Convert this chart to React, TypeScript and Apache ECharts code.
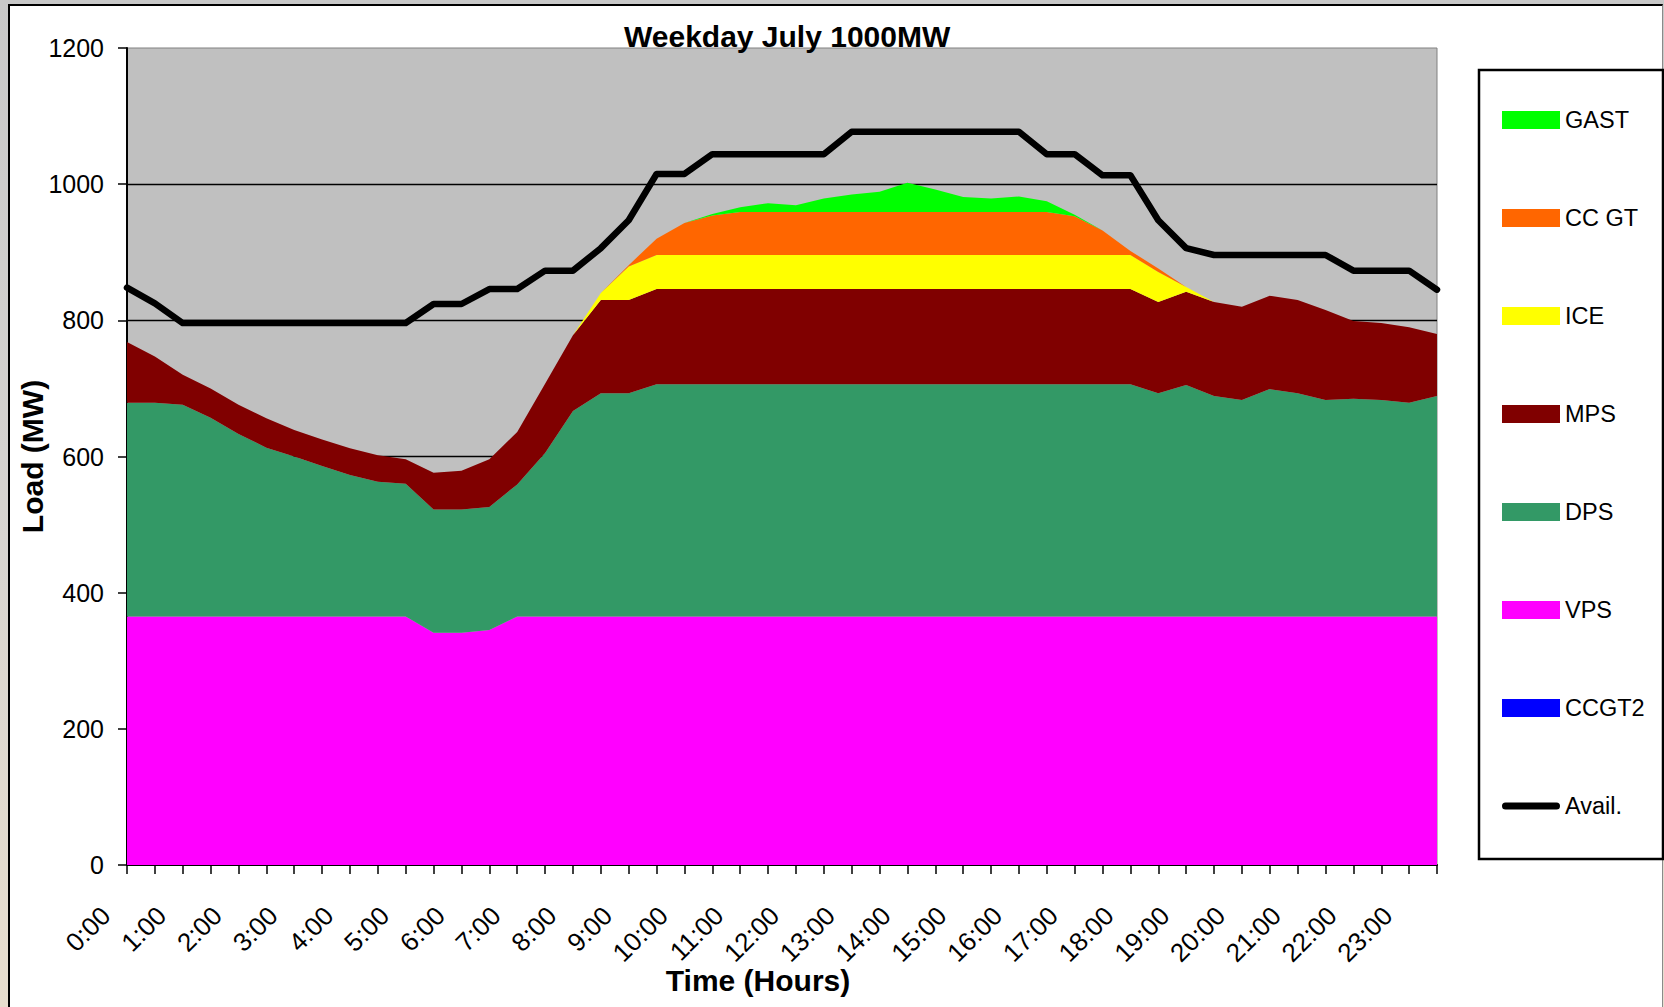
import React, { useEffect, useRef } from "react";
import * as echarts from "echarts";

const FONT = "'Liberation Sans', Arial, Helvetica, sans-serif";

const categories = [
  "0:00", "0:30", "1:00", "1:30", "2:00", "2:30", "3:00", "3:30",
  "4:00", "4:30", "5:00", "5:30", "6:00", "6:30", "7:00", "7:30",
  "8:00", "8:30", "9:00", "9:30", "10:00", "10:30", "11:00", "11:30",
  "12:00", "12:30", "13:00", "13:30", "14:00", "14:30", "15:00", "15:30",
  "16:00", "16:30", "17:00", "17:30", "18:00", "18:30", "19:00", "19:30",
  "20:00", "20:30", "21:00", "21:30", "22:00", "22:30", "23:00", "23:30",
];

const ccgt2 = [
  0, 0, 0, 0, 0, 0, 0, 0, 0, 0, 0, 0, 0, 0, 0, 0,
  0, 0, 0, 0, 0, 0, 0, 0, 0, 0, 0, 0, 0, 0, 0, 0,
  0, 0, 0, 0, 0, 0, 0, 0, 0, 0, 0, 0, 0, 0, 0, 0,
];

const vps = [
  365, 365, 365, 365, 365, 365, 365, 365, 365, 365, 365, 341, 341, 345, 365, 365,
  365, 365, 365, 365, 365, 365, 365, 365, 365, 365, 365, 365, 365, 365, 365, 365,
  365, 365, 365, 365, 365, 365, 365, 365, 365, 365, 365, 365, 365, 365, 365, 365,
];

const dps = [
  314, 314, 311, 292, 268, 248, 235, 221, 208, 198, 195, 181, 181, 181, 194, 240,
  302, 328, 328, 341, 341, 341, 341, 341, 341, 341, 341, 341, 341, 341, 341, 341,
  341, 341, 341, 341, 341, 328, 340, 324, 318, 334, 328, 318, 320, 318, 314, 324,
];

const mps = [
  89, 68, 44, 43, 43, 43, 39, 39, 39, 39, 36, 54, 57, 70, 77, 102,
  111, 137, 137, 140, 140, 140, 140, 140, 140, 140, 140, 140, 140, 140, 140, 140,
  140, 140, 140, 140, 140, 134, 137, 138, 137, 137, 137, 132, 114, 113, 111, 91,
];

const ice = [
  0, 0, 0, 0, 0, 0, 0, 0, 0, 0, 0, 0, 0, 0, 0, 0,
  0, 10, 49, 50, 50, 50, 50, 50, 50, 50, 50, 50, 50, 50, 50, 50,
  50, 50, 50, 50, 50, 44, 7, 0, 0, 0, 0, 0, 0, 0, 0, 0,
];

const ccgt = [
  0, 0, 0, 0, 0, 0, 0, 0, 0, 0, 0, 0, 0, 0, 0, 0,
  0, 0, 2, 24, 47, 58, 63, 63, 63, 63, 63, 63, 63, 63, 63, 63,
  63, 63, 57, 36, 6, 5, 0, 0, 0, 0, 0, 0, 0, 0, 0, 0,
];

const gast = [
  0, 0, 0, 0, 0, 0, 0, 0, 0, 0, 0, 0, 0, 0, 0, 0,
  0, 0, 0, 0, 0, 2, 7, 13, 10, 20, 26, 30, 43, 33, 22, 20,
  23, 16, 2, 0, 0, 0, 0, 0, 0, 0, 0, 0, 0, 0, 0, 0,
];

const avail = [
  848, 825, 796, 796, 796, 796, 796, 796, 796, 796, 796, 824, 824, 846, 846, 873,
  873, 906, 947, 1015, 1015, 1044, 1044, 1044, 1044, 1044, 1077, 1077, 1077, 1077, 1077, 1077,
  1077, 1044, 1044, 1013, 1013, 947, 906, 896, 896, 896, 896, 896, 873, 873, 873, 845,
];

const yTicks = { min: 0, max: 1200, interval: 200 };

const stackSeries = [
  { name: "CCGT2", data: ccgt2, color: "#0000FF" },
  { name: "VPS", data: vps, color: "#FF00FF" },
  { name: "DPS", data: dps, color: "#339966" },
  { name: "MPS", data: mps, color: "#800000" },
  { name: "ICE", data: ice, color: "#FFFF00" },
  { name: "CC GT", data: ccgt, color: "#FF6600" },
  { name: "GAST", data: gast, color: "#00FF00" },
];

const legendOrder = ["GAST", "CC GT", "ICE", "MPS", "DPS", "VPS", "CCGT2"];

export default function App() {
  const ref = useRef<HTMLDivElement>(null);

  useEffect(() => {
    if (!ref.current) return;
    const chart = echarts.init(ref.current, undefined, { renderer: "svg" });
    const series: any[] = stackSeries.map((s) => ({
      name: s.name,
      type: "line",
      stack: "load",
      data: s.data,
      symbol: "none",
      showSymbol: false,
      color: s.color,
      itemStyle: { color: s.color },
      lineStyle: { width: 0, color: s.color },
      areaStyle: { color: s.color, opacity: 1 },
      emphasis: { disabled: true },
    }));
    series.push({
      name: "Avail.",
      type: "line",
      data: avail,
      symbol: "none",
      showSymbol: false,
      color: "#000",
      itemStyle: { color: "#000" },
      lineStyle: { width: 6.5, color: "#000", cap: "round", join: "round" },
      emphasis: { disabled: true },
      z: 5,
    });

    chart.setOption({
      animation: false,
      backgroundColor: "transparent",
      textStyle: { fontFamily: FONT, color: "#000" },
      title: {
        text: "Weekday July 1000MW",
        left: 624,
        top: 21,
        padding: 0,
        textStyle: { fontFamily: FONT, fontSize: 30, fontWeight: "bold", color: "#000" },
      },
      legend: {
        orient: "vertical",
        left: 1502,
        top: 108,
        padding: 0,
        itemWidth: 58,
        itemHeight: 18,
        itemGap: 74,
        selectedMode: false,
        textStyle: { fontFamily: FONT, fontSize: 23.5, color: "#000" },
        data: [
          ...legendOrder.map((n) => ({ name: n, icon: "rect" })),
          {
            name: "Avail.",
            icon: "path://M3.5,0 L54.5,0 A3.5,3.5 0 0 1 54.5,7 L3.5,7 A3.5,3.5 0 0 1 3.5,0 Z",
          },
        ],
      },
      graphic: [
        {
          type: "rect",
          z: -1,
          shape: { x: 1479, y: 70, width: 184, height: 789 },
          style: { fill: "#fff", stroke: "#000", lineWidth: 2.5 },
        },
      ],
      grid: {
        left: 127,
        right: 227,
        top: 48,
        bottom: 142,
        show: true,
        backgroundColor: "#C0C0C0",
        borderColor: "#808080",
        borderWidth: 1,
        containLabel: false,
        outerBoundsMode: "none",
      },
      xAxis: {
        type: "category",
        boundaryGap: false,
        data: categories,
        axisLine: { show: true, lineStyle: { color: "#000", width: 2 } },
        axisTick: { show: true, interval: 0, length: 9, lineStyle: { color: "#000", width: 1.5 } },
        axisLabel: {
          interval: 1,
          rotate: 45,
          fontSize: 26,
          color: "#000",
          fontFamily: FONT,
          margin: 25,
          padding: [0, 30, 0, 0],
        },
        splitLine: { show: false },
        name: "Time (Hours)",
        nameLocation: "middle",
        nameGap: 100,
        nameMoveOverlap: false,
        nameTextStyle: {
          fontFamily: FONT,
          fontSize: 30,
          fontWeight: "bold",
          color: "#000",
          padding: [0, 48, 0, 0],
        },
      },
      yAxis: {
        type: "value",
        min: yTicks.min,
        max: yTicks.max,
        interval: yTicks.interval,
        axisLine: { show: true, lineStyle: { color: "#000", width: 2 } },
        axisTick: { show: true, length: 9, lineStyle: { color: "#000", width: 1.5 } },
        axisLabel: {
          fontSize: 25,
          color: "#000",
          fontFamily: FONT,
          margin: 23,
          formatter: (v: number) => String(v),
        },
        splitLine: {
          show: true,
          showMaxLine: false,
          showMinLine: false,
          lineStyle: { color: "#000", width: 1.4 },
        },
        name: "Load (MW)",
        nameLocation: "middle",
        nameRotate: 90,
        nameGap: 80,
        nameMoveOverlap: false,
        nameTextStyle: { fontFamily: FONT, fontSize: 30, fontWeight: "bold", color: "#000" },
      },
      series,
    });
    return () => chart.dispose();
  }, []);

  return (
    <div
      style={{
        position: "fixed",
        left: 0,
        top: 0,
        width: 1664,
        height: 1007,
        overflow: "hidden",
        background: "linear-gradient(180deg, #c8c8c8 0%, #d4d2cf 45%, #e8dece 100%)",
      }}
    >
      <div
        style={{
          position: "absolute",
          left: 8,
          top: 4,
          width: 1655,
          height: 1020,
          boxSizing: "border-box",
          background: "#fff",
          borderLeft: "2px solid #000",
          borderTop: "2px solid #000",
          borderRight: "1.5px solid #8a8a8a",
        }}
      />
      <div ref={ref} style={{ position: "absolute", left: 0, top: 0, width: 1664, height: 1007 }} />
    </div>
  );
}
